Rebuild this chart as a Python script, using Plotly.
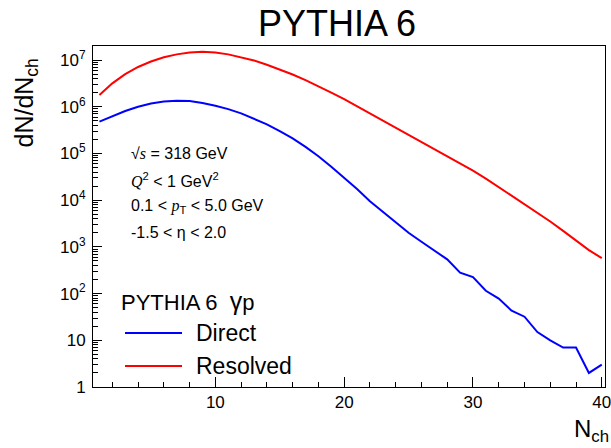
import plotly.graph_objects as go

# ---- data ----
n_ch = list(range(1, 41))
direct = [4.8e5, 6.3e5, 8.1e5, 1.0e6, 1.17e6, 1.29e6, 1.35e6, 1.32e6, 1.2e6, 1.05e6,
          8.9e5, 7.2e5, 5.6e5, 4.2e5, 3.0e5, 2.1e5, 1.38e5, 8.7e4, 5.2e4, 3.0e4,
          1.74e4, 9.5e3, 5.6e3, 3.4e3, 2.0e3, 1.29e3, 830, 540, 280, 225,
          115, 78, 43, 32, 15, 10, 7, 7, 2, 3]
resolved = [1.78e6, 3.16e6, 5.0e6, 7.1e6, 9.3e6, 1.15e7, 1.32e7, 1.45e7, 1.51e7, 1.45e7,
            1.32e7, 1.15e7, 9.8e6, 7.9e6, 6.3e6, 4.9e6, 3.7e6, 2.75e6, 2.0e6, 1.45e6,
            1.02e6, 7.2e5, 5.1e5, 3.6e5, 2.57e5, 1.82e5, 1.26e5, 8.9e4, 6.2e4, 4.3e4,
            2.9e4, 1.9e4, 1.26e4, 8.3e3, 5.4e3, 3.5e3, 2.2e3, 1.35e3, 850, 575]
x_ticks = [10, 20, 30, 40]
y_tickvals = [1, 10, 1e2, 1e3, 1e4, 1e5, 1e6, 1e7]
y_ticktext = ["1", "10", "10<sup>2</sup>", "10<sup>3</sup>", "10<sup>4</sup>",
              "10<sup>5</sup>", "10<sup>6</sup>", "10<sup>7</sup>"]

W, H = 611, 448
L, R, T, B = 93, 6, 46, 61
PW, PH = W - L - R, H - T - B

def px(xr):
    return (xr - L) / PW

def py(yr):
    return (H - B - yr) / PH

SANS = "Liberation Sans, Arial, sans-serif"

fig = go.Figure()
fig.add_trace(go.Scatter(x=n_ch, y=direct, mode="lines", name="Direct",
                         line=dict(color="#0000ff", width=2)))
fig.add_trace(go.Scatter(x=n_ch, y=resolved, mode="lines", name="Resolved",
                         line=dict(color="#ff0000", width=2)))

fig.update_layout(
    width=W, height=H,
    margin=dict(l=L, r=R, t=T, b=B, pad=0, autoexpand=False),
    paper_bgcolor="white", plot_bgcolor="white",
    showlegend=False,
    font=dict(family=SANS, color="black"),
)
fig.update_xaxes(
    range=[0.5, 40.25], tickmode="array", tickvals=x_ticks,
    ticks="inside", ticklen=10, tickwidth=1, tickcolor="black",
    showline=True, linecolor="black", linewidth=1, mirror=True,
    showgrid=False, zeroline=False, automargin=False,
    ticklabeloverflow="allow",
    tickfont=dict(size=17, family=SANS, color="black"),
    minor=dict(ticks="inside", ticklen=5, tickwidth=1, tickcolor="black",
               tick0=0, dtick=2, showgrid=False),
)
fig.update_yaxes(
    type="log", range=[0, 7.3], tickmode="array",
    tickvals=y_tickvals, ticktext=y_ticktext,
    ticks="inside", ticklen=9, tickwidth=1, tickcolor="black",
    showline=True, linecolor="black", linewidth=1, mirror=True,
    showgrid=False, zeroline=False, automargin=False,
    ticklabelstandoff=3,
    tickfont=dict(size=17, family=SANS, color="black"),
    minor=dict(ticks="inside", ticklen=5, tickwidth=1, tickcolor="black",
               dtick="D1", showgrid=False),
)

ann = []
# title
ann.append(dict(text="PYTHIA 6", x=px(337), y=py(23), xref="paper", yref="paper",
                xanchor="center", yanchor="middle", showarrow=False,
                font=dict(size=36, family=SANS)))
# axis titles
ann.append(dict(text="dN/dN<sub>ch</sub>", x=px(26), y=py(57), xref="paper", yref="paper",
                xanchor="center", yanchor="top", textangle=-90, showarrow=False,
                font=dict(size=25, family=SANS)))
ann.append(dict(text="N<sub>ch</sub>", x=px(611), y=py(431), xref="paper", yref="paper",
                xanchor="right", yanchor="middle", showarrow=False,
                font=dict(size=24, family=SANS)))
# info text
info = [
    ("√<span style='font-family:Liberation Serif'><i>s</i></span> = 318 GeV", 153),
    ("<span style='font-family:Liberation Serif'><i>Q</i></span><sup>2</sup> &lt; 1 GeV<sup>2</sup>", 180),
    ("0.1 &lt; <span style='font-family:Liberation Serif'><i>p</i></span><sub>T</sub> &lt; 5.0 GeV", 206),
    ("-1.5 &lt; η &lt; 2.0", 232),
]
for t, yy in info:
    ann.append(dict(text=t, x=px(129), y=py(yy), xref="paper", yref="paper",
                    xanchor="left", yanchor="middle", showarrow=False,
                    font=dict(size=16, family=SANS)))
# legend
ann.append(dict(text="PYTHIA 6 &nbsp;<span style='font-size:25px'>γ</span>p",
                x=px(119), y=py(301), xref="paper", yref="paper",
                xanchor="left", yanchor="middle", showarrow=False,
                font=dict(size=22, family=SANS)))
shapes = []
for name, col, yy in [("Direct", "#0000ff", 333), ("Resolved", "#ff0000", 366)]:
    ann.append(dict(text=name, x=px(194), y=py(yy), xref="paper", yref="paper",
                    xanchor="left", yanchor="middle", showarrow=False,
                    font=dict(size=23, family=SANS)))
    shapes.append(dict(type="line", xref="paper", yref="paper",
                       x0=px(125), x1=px(182), y0=py(yy), y1=py(yy),
                       line=dict(color=col, width=2)))
fig.update_layout(annotations=ann, shapes=shapes)

fig.write_html(
    "out.html",
    config={"displayModeBar": False},
    post_script="document.body.style.margin='0';document.body.style.overflow='hidden';",
)
